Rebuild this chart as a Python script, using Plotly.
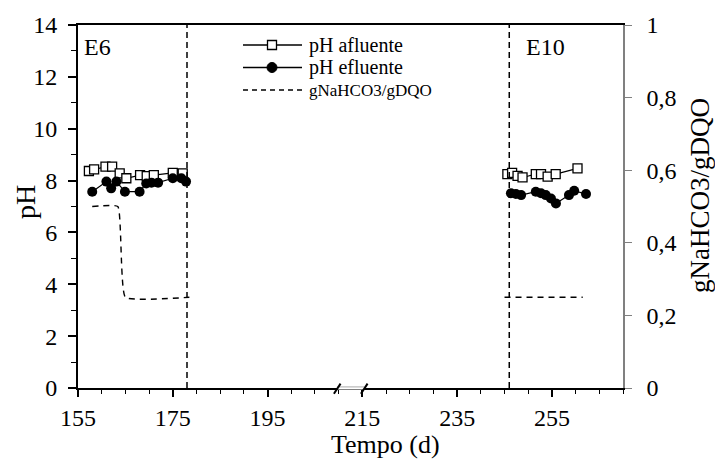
import plotly.graph_objects as go

# ---- data -------------------------------------------------------------
# Phase E6
e6_afl_day = [157.3, 158.4, 160.8, 162.2, 163.8, 165.2, 168.1, 169.5, 171.0, 175.0, 177.1]
e6_afl_ph = [8.37, 8.43, 8.54, 8.54, 8.28, 8.09, 8.21, 8.17, 8.21, 8.30, 8.28]
e6_efl_day = [158.0, 161.0, 162.0, 163.1, 164.9, 168.0, 169.4, 170.5, 171.9, 175.0, 176.8, 177.8]
e6_efl_ph = [7.57, 7.96, 7.70, 7.96, 7.57, 7.57, 7.89, 7.92, 7.92, 8.09, 8.09, 7.96]
e6_ratio_day = [158.0, 163.4, 165.0, 178.5]
e6_ratio = [0.5, 0.5, 0.25, 0.25]

# Phase E10
e10_afl_day = [245.6, 246.6, 247.75, 248.8, 251.6, 252.7, 254.1, 255.8, 260.4]
e10_afl_ph = [8.25, 8.30, 8.18, 8.12, 8.25, 8.25, 8.15, 8.25, 8.47]
e10_efl_day = [246.35, 247.4, 248.5, 251.6, 252.7, 253.7, 254.8, 255.85, 258.6, 259.7, 262.2]
e10_efl_ph = [7.51, 7.48, 7.44, 7.57, 7.51, 7.44, 7.31, 7.12, 7.44, 7.61, 7.48]
e10_ratio_day = [245.0, 261.5]
e10_ratio = [0.25, 0.25]

phase_limits = [178, 246]
phase_names = ["E6", "E10"]
phase_label_day = [155.8, 249.1]
axis_break = [209.7, 215.4]

x_ticks = [155, 175, 195, 215, 235, 255]

FONT = "Liberation Serif, Times New Roman, serif"

# plot area in pixels (for the hand-made legend)
W, H = 715, 464
ML, MR, MT, MB = 78, 92, 25, 76
PW, PH = W - ML - MR, H - MT - MB


def px(xp):
    return (xp - ML) / PW


def py(yp):
    return (H - MB - yp) / PH


def join(a, b):
    """Join two phases into one series with a gap between them."""
    return list(a) + [None] + list(b)


fig = go.Figure()

fig.add_trace(go.Scatter(
    x=join(e6_afl_day, e10_afl_day), y=join(e6_afl_ph, e10_afl_ph),
    name="pH afluente", mode="lines+markers", showlegend=False,
    line=dict(color="black", width=1.2),
    marker=dict(symbol="square", size=9, color="white",
                line=dict(color="black", width=1.3)),
))
fig.add_trace(go.Scatter(
    x=join(e6_efl_day, e10_efl_day), y=join(e6_efl_ph, e10_efl_ph),
    name="pH efluente", mode="lines+markers", showlegend=False,
    line=dict(color="black", width=1.2),
    marker=dict(symbol="circle", size=10, color="black"),
))
fig.add_trace(go.Scatter(
    x=join(e6_ratio_day, e10_ratio_day), y=join(e6_ratio, e10_ratio),
    name="gNaHCO3/gDQO", mode="lines", yaxis="y2", showlegend=False,
    line=dict(color="black", width=1.4, dash="6px,5px", shape="spline", smoothing=0.35),
))

# phase boundaries
for d in phase_limits:
    fig.add_shape(type="line", xref="x", yref="y", x0=d, x1=d, y0=0, y1=14,
                  line=dict(color="black", width=1.5, dash="6px,4px"), layer="above")

# phase names
for d, name in zip(phase_label_day, phase_names):
    fig.add_annotation(x=d, y=13.15, xref="x", yref="y", text=name, showarrow=False,
                       xanchor="left", yanchor="middle",
                       font=dict(family=FONT, size=24, color="black"))

# broken x axis marker
fig.add_shape(type="line", xref="x", yref="paper", x0=axis_break[0], x1=axis_break[1],
              y0=0, y1=0, line=dict(color="white", width=3), layer="above")
fig.add_shape(type="line", xref="x", yref="paper", x0=axis_break[0], x1=axis_break[1],
              y0=0.003, y1=0.003, line=dict(color="#aaaaaa", width=1), layer="above")
for d in axis_break:
    fig.add_shape(type="line", xref="x", yref="paper", x0=d - 0.7, x1=d + 0.7,
                  y0=-0.016, y1=0.012, line=dict(color="black", width=2), layer="above")

# legend
leg_rows = [45, 67.5, 90]
leg_x0, leg_x1, leg_mid, leg_text = 243, 302, 272, 307
leg_labels = ["pH afluente", "pH efluente", "gNaHCO3/gDQO"]
leg_sizes = [20, 20, 17]
for i, (yy, lab, fs) in enumerate(zip(leg_rows, leg_labels, leg_sizes)):
    dash = "solid" if i < 2 else "5px,4px"
    fig.add_shape(type="line", xref="paper", yref="paper", x0=px(leg_x0), x1=px(leg_x1),
                  y0=py(yy), y1=py(yy), line=dict(color="black", width=1.3, dash=dash))
    fig.add_annotation(x=px(leg_text), y=py(yy), xref="paper", yref="paper", text=lab,
                       showarrow=False, xanchor="left", yanchor="middle",
                       font=dict(family=FONT, size=fs, color="black"))
s = 4.5
fig.add_shape(type="rect", xref="paper", yref="paper",
              x0=px(leg_mid - s), x1=px(leg_mid + s),
              y0=py(leg_rows[0] + s), y1=py(leg_rows[0] - s),
              fillcolor="white", line=dict(color="black", width=1.3))
r = 5
fig.add_shape(type="circle", xref="paper", yref="paper",
              x0=px(leg_mid - r), x1=px(leg_mid + r),
              y0=py(leg_rows[1] + r), y1=py(leg_rows[1] - r),
              fillcolor="black", line=dict(color="black", width=1))

# axis titles
fig.add_annotation(x=px(385), y=py(445), xref="paper", yref="paper", text="Tempo (d)",
                   showarrow=False, yanchor="middle",
                   font=dict(family=FONT, size=26, color="black"))
fig.add_annotation(x=px(25), y=py(202), xref="paper", yref="paper", text="pH",
                   showarrow=False, textangle=-90, xanchor="center", yanchor="middle",
                   font=dict(family=FONT, size=28, color="black"))
fig.add_annotation(x=px(700), y=py(196), xref="paper", yref="paper", text="gNaHCO3/gDQO",
                   showarrow=False, textangle=-90, xanchor="center", yanchor="middle",
                   font=dict(family=FONT, size=27, color="black"))

fig.update_layout(
    width=W, height=H,
    margin=dict(l=ML, r=MR, t=MT, b=MB),
    paper_bgcolor="white", plot_bgcolor="white",
    separators=",.",
    font=dict(family=FONT, size=24, color="black"),
    showlegend=False,
    xaxis=dict(range=[155, 270], tickvals=x_ticks, showgrid=False, zeroline=False,
               showline=True, linecolor="black", linewidth=2, mirror=True,
               ticks="outside", ticklen=7, tickwidth=1.5, tickcolor="black",
               ticklabelstandoff=0,
               minor=dict(dtick=5, tick0=155, ticks="outside", ticklen=4,
                          tickwidth=1, tickcolor="black")),
    yaxis=dict(range=[0, 14], dtick=2, showgrid=False, zeroline=False,
               showline=True, linecolor="black", linewidth=2,
               ticks="outside", ticklen=8, tickwidth=1.5, tickcolor="black",
               ticklabelstandoff=6,
               minor=dict(dtick=1, ticks="outside", ticklen=5, tickwidth=1,
                          tickcolor="black")),
    yaxis2=dict(range=[0, 1], dtick=0.2, overlaying="y", side="right",
                showgrid=False, zeroline=False, showline=True, linecolor="#808080",
                linewidth=1.5, ticks="outside", ticklen=7, tickwidth=1.2,
                tickcolor="#808080", ticklabelstandoff=10),
)

fig.write_html("out.html")
